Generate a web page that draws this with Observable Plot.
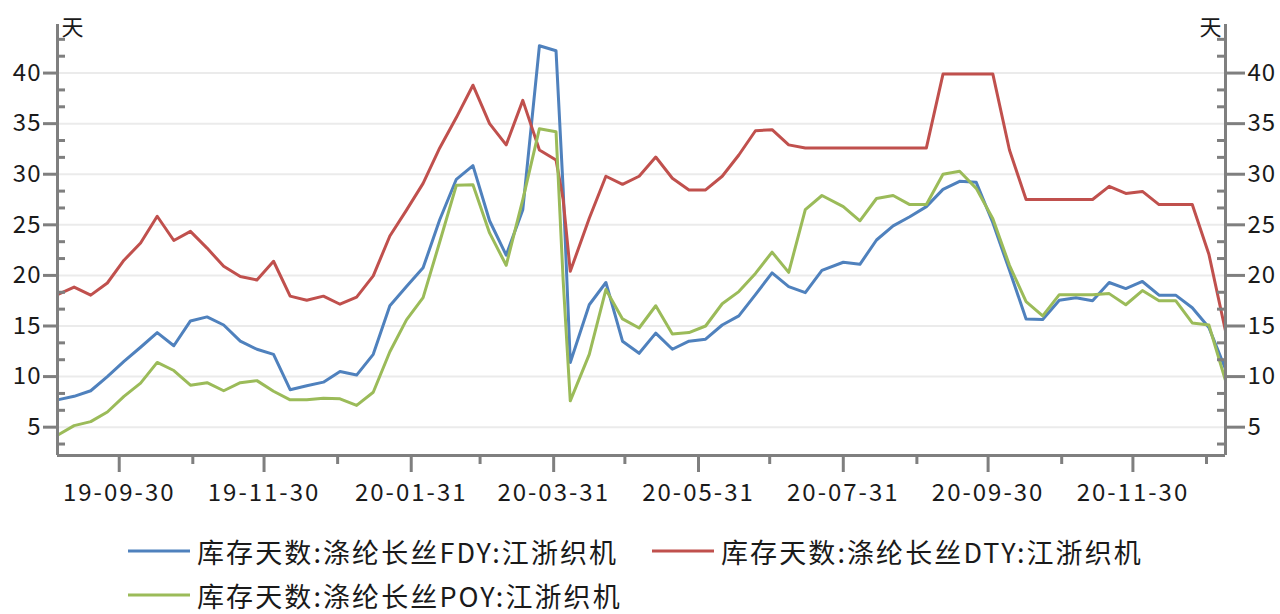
<!DOCTYPE html>
<html>
<head>
<meta charset="utf-8">
<script src="https://cdn.jsdelivr.net/npm/d3@7"></script>
<script src="https://cdn.jsdelivr.net/npm/@observablehq/plot@0.6"></script>
<style>
  html, body { margin: 0; padding: 0; background: #ffffff; }
  body { width: 1280px; height: 614px; overflow: hidden; font-family: "Noto Sans CJK SC", "Noto Sans", sans-serif; }
  #legend { position: relative; width: 1280px; height: 114px; color: #1a1a1a; font-size: 27px; }
  .item { position: absolute; display: flex; align-items: center; transform: translateY(-50%); white-space: nowrap; line-height: 1; letter-spacing: 2.1px; }
  .sw { width: 62px; height: 3.5px; margin-right: 7px; }
  g[aria-label="x-axis tick label"] text { letter-spacing: 2px; }
  g[aria-label="y-axis tick label"] text { letter-spacing: 1px; }
</style>
</head>
<body>
<div id="chart"></div>
<div id="legend"></div>
<script>
// ---- data (weekly) ----
const dates = [
  "2019-09-04","2019-09-11","2019-09-18","2019-09-25","2019-10-02","2019-10-09","2019-10-16","2019-10-23","2019-10-30",
  "2019-11-06","2019-11-13","2019-11-20","2019-11-27","2019-12-04","2019-12-11","2019-12-18","2019-12-25",
  "2020-01-01","2020-01-08","2020-01-15","2020-01-22","2020-01-29","2020-02-05","2020-02-12","2020-02-19","2020-02-26",
  "2020-03-04","2020-03-11","2020-03-18","2020-03-25","2020-04-01","2020-04-04","2020-04-07","2020-04-15","2020-04-22",
  "2020-04-29","2020-05-06","2020-05-13","2020-05-20","2020-05-27","2020-06-03","2020-06-10","2020-06-17","2020-06-24",
  "2020-07-01","2020-07-08","2020-07-15","2020-07-22","2020-07-31","2020-08-07","2020-08-14","2020-08-21","2020-08-28",
  "2020-09-04","2020-09-11","2020-09-18","2020-09-25","2020-10-02","2020-10-09","2020-10-16","2020-10-23","2020-10-30",
  "2020-11-06","2020-11-13","2020-11-20","2020-11-27","2020-12-04","2020-12-11","2020-12-18","2020-12-25",
  "2021-01-01","2021-01-08"
];
const fdy = [
  7.7,8.05,8.6,10.0,11.5,12.9,14.35,13.05,15.5,
  15.9,15.1,13.5,12.7,12.2,8.7,9.1,9.45,
  10.5,10.15,12.2,17.0,18.9,20.75,25.5,29.5,30.85,
  25.4,22.0,26.5,42.7,42.2,28.5,11.4,17.1,19.3,
  13.5,12.3,14.3,12.7,13.5,13.7,15.1,16.0,18.1,
  20.25,18.9,18.3,20.5,21.3,21.1,23.5,24.9,25.8,
  26.8,28.5,29.3,29.2,25.2,20.5,15.7,15.65,17.55,
  17.8,17.5,19.3,18.7,19.4,18.05,18.05,16.8,
  14.85,10.75
];
const dty = [
  18.1,18.85,18.05,19.25,21.5,23.2,25.85,23.45,24.35,
  22.7,20.9,19.9,19.55,21.4,17.95,17.55,17.95,
  17.15,17.85,19.95,23.9,26.45,29.1,32.6,35.6,38.8,
  35.0,32.9,37.3,32.4,31.4,27.5,20.4,25.65,29.8,
  29.0,29.8,31.7,29.6,28.45,28.45,29.8,31.9,34.3,
  34.4,32.9,32.6,32.6,32.6,32.6,32.6,32.6,32.6,
  32.6,39.9,39.9,39.9,39.9,32.4,27.5,27.5,27.5,
  27.5,27.5,28.8,28.1,28.3,27.0,27.0,27.0,
  22.1,14.5
];
const poy = [
  4.2,5.15,5.55,6.5,8.05,9.35,11.4,10.6,9.15,
  9.4,8.6,9.4,9.6,8.55,7.7,7.7,7.85,
  7.8,7.15,8.45,12.45,15.6,17.8,23.3,28.9,28.95,
  24.2,21.0,27.5,34.5,34.2,19.5,7.6,12.2,18.6,
  15.7,14.8,17.0,14.2,14.35,15.0,17.2,18.4,20.2,
  22.3,20.3,26.5,27.9,26.8,25.4,27.6,27.9,27.0,
  27.0,30.0,30.3,28.6,25.6,21.0,17.4,16.0,18.1,
  18.1,18.1,18.2,17.1,18.5,17.5,17.5,15.3,
  15.1,9.6
];
const seriesNames = ["库存天数:涤纶长丝FDY:江浙织机", "库存天数:涤纶长丝DTY:江浙织机", "库存天数:涤纶长丝POY:江浙织机"];
const seriesColors = ["#4F81BD", "#C0504D", "#9BBB59"];
const xMajorTicks = ["2019-09-30","2019-11-30","2020-01-31","2020-03-31","2020-05-31","2020-07-31","2020-09-30","2020-11-30"];
const xMinorTicks = ["2019-10-31","2019-12-31","2020-02-29","2020-04-30","2020-06-30","2020-08-31","2020-10-31","2020-12-31"];
const yMajorTicks = [5, 10, 15, 20, 25, 30, 35, 40];
const yMinorTicks = [10/3, 20/3, 25/3, 35/3, 40/3, 50/3, 55/3, 65/3, 70/3, 80/3, 85/3, 95/3, 100/3, 110/3, 115/3, 125/3, 130/3];
const yDomain = [2.2, 44.8];
const unitLabel = "天";

// ---- build ----
const parse = d3.utcParse("%Y-%m-%d");
const rows = dates.map((d, i) => ({date: parse(d), fdy: fdy[i], dty: dty[i], poy: poy[i]}));
const xDomain = [parse(dates[0]), parse(dates[dates.length - 1])];
const axisColor = "#7f7f7f";
const W = 1280, ML = 57, MR = 55;
const innerW = W - ML - MR;

const chart = Plot.plot({
  width: W,
  height: 500,
  marginLeft: ML,
  marginRight: MR,
  marginTop: 24,
  marginBottom: 45,
  style: {fontFamily: "'Noto Sans CJK SC', 'Noto Sans', sans-serif", fontSize: "24px", color: "#1a1a1a", background: "#ffffff", overflow: "visible"},
  x: {type: "utc", domain: xDomain},
  y: {domain: yDomain},
  marks: [
    Plot.ruleY(yMajorTicks, {stroke: "#ebebeb", strokeWidth: 2}),
    Plot.line(rows, {x: "date", y: "fdy", stroke: seriesColors[0], strokeWidth: 3}),
    Plot.line(rows, {x: "date", y: "dty", stroke: seriesColors[1], strokeWidth: 3}),
    Plot.line(rows, {x: "date", y: "poy", stroke: seriesColors[2], strokeWidth: 3}),
    Plot.ruleY([yDomain[0]], {stroke: axisColor, strokeWidth: 3}),
    Plot.ruleX([xDomain[0]], {stroke: axisColor, strokeWidth: 3}),
    Plot.ruleX([xDomain[1]], {stroke: axisColor, strokeWidth: 3}),
    Plot.tickY(yMinorTicks, {stroke: axisColor, strokeWidth: 3, insetRight: innerW - 8}),
    Plot.tickY(yMinorTicks, {stroke: axisColor, strokeWidth: 3, insetLeft: innerW - 8}),
    Plot.axisY(yMajorTicks, {anchor: "left", tickSize: 14, tickPadding: 2, stroke: axisColor, strokeWidth: 3, fontSize: 24, label: null}),
    Plot.axisY(yMajorTicks, {anchor: "right", tickSize: 19, tickPadding: 3, stroke: axisColor, strokeWidth: 3, fontSize: 24, label: null}),
    Plot.axisX(xMajorTicks.map(parse), {tickSize: 17, tickPadding: 11, stroke: axisColor, strokeWidth: 3, fontSize: 24, tickFormat: d3.utcFormat("%y-%m-%d"), label: null}),
    Plot.axisX(xMinorTicks.map(parse), {tickSize: 9, stroke: axisColor, strokeWidth: 3, tickFormat: () => "", label: null}),
    Plot.text([unitLabel], {frameAnchor: "top-left", dx: 4, dy: 3, fontSize: 22, textAnchor: "start", lineAnchor: "middle", fill: "#1a1a1a"}),
    Plot.text([unitLabel], {frameAnchor: "top-right", dx: -4, dy: 3, fontSize: 22, textAnchor: "end", lineAnchor: "middle", fill: "#1a1a1a"})
  ]
});
document.getElementById("chart").appendChild(chart);

// ---- legend ----
const legendPos = [[128, 51], [652, 51], [128, 95]];
const legend = document.getElementById("legend");
seriesNames.forEach((name, i) => {
  const item = document.createElement("div");
  item.className = "item";
  item.style.left = legendPos[i][0] + "px";
  item.style.top = legendPos[i][1] + "px";
  const sw = document.createElement("span");
  sw.className = "sw";
  sw.style.background = seriesColors[i];
  const tx = document.createElement("span");
  tx.textContent = name;
  item.appendChild(sw);
  item.appendChild(tx);
  legend.appendChild(item);
});
</script>
</body>
</html>
